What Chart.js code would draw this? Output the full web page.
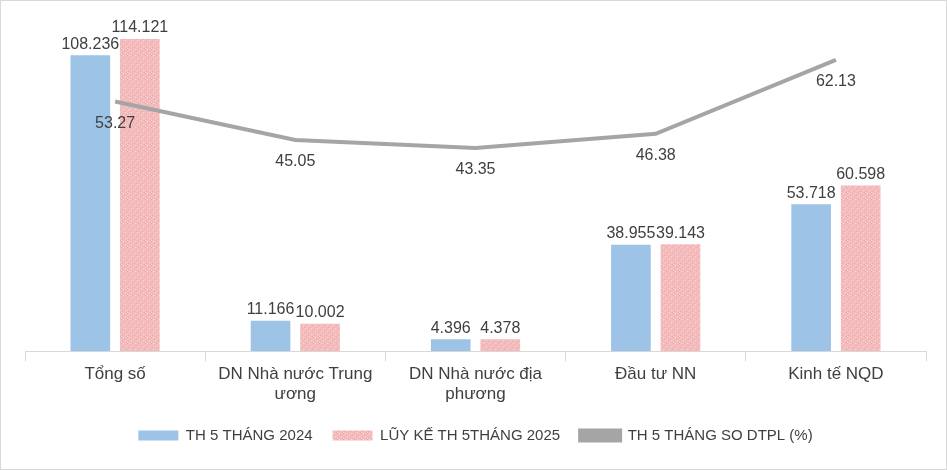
<!DOCTYPE html>
<html>
<head>
<meta charset="utf-8">
<script src="https://cdn.jsdelivr.net/npm/chart.js@4"></script>
<style>
  body { margin: 0; background: #fff; }
  #wrap { width: 945px; height: 468px; border: 1px solid #d9d9d9; }
</style>
</head>
<body>
<div id="wrap"><canvas id="chart" width="945" height="468"></canvas></div>
<script>
// Data
const categories = [['Tổng số'], ['DN Nhà nước Trung', 'ương'], ['DN Nhà nước địa', 'phương'], ['Đầu tư NN'], ['Kinh tế NQD']];
const th2024 = [108.236, 11.166, 4.396, 38.955, 53.718];
const lk2025 = [114.121, 10.002, 4.378, 39.143, 60.598];
const soDtpl = [53.27, 45.05, 43.35, 46.38, 62.13];

// Textured pink fill
function pinkPattern() {
  const c = document.createElement('canvas');
  c.width = 6; c.height = 6;
  const g = c.getContext('2d');
  g.fillStyle = '#f4bcbc';
  g.fillRect(0, 0, 6, 6);
  g.fillStyle = '#e8a8a8';
  g.fillRect(0, 0, 1, 1); g.fillRect(3, 2, 1, 1); g.fillRect(1, 4, 1, 1); g.fillRect(5, 5, 1, 1);
  g.fillStyle = '#fbd4d4';
  g.fillRect(2, 0, 1, 1); g.fillRect(4, 3, 1, 1); g.fillRect(0, 5, 1, 1);
  return g.createPattern(c, 'repeat');
}

const fmt = v => v.toFixed(3);

// Draw value labels
const valueLabels = {
  id: 'valueLabels',
  afterDatasetsDraw(chart) {
    const ctx = chart.ctx;
    ctx.save();
    ctx.font = '16px "Liberation Sans", Arial, sans-serif';
    ctx.fillStyle = '#404040';
    ctx.textAlign = 'center';
    chart.data.datasets.forEach((ds, i) => {
      chart.getDatasetMeta(i).data.forEach((el, j) => {
        if (ds.type === 'line') {
          ctx.textBaseline = 'top';
          ctx.fillText(ds.data[j].toFixed(2), el.x, el.y + 14);
        } else {
          ctx.textBaseline = 'bottom';
          ctx.fillText(fmt(ds.data[j]), el.x, el.y - 3);
        }
      });
    });
    ctx.restore();
  }
};

new Chart(document.getElementById('chart'), {
  data: {
    labels: categories,
    datasets: [
      { type: 'line', label: 'TH 5 THÁNG SO DTPL (%)', data: soDtpl, yAxisID: 'y2',
        borderColor: '#a5a5a5', backgroundColor: '#a5a5a5', borderWidth: 4, pointRadius: 0, tension: 0, order: 0 },
      { type: 'bar', label: 'TH 5 THÁNG 2024', data: th2024, yAxisID: 'y',
        backgroundColor: '#9dc3e6', barPercentage: 0.8, categoryPercentage: 0.55, order: 1 },
      { type: 'bar', label: 'LŨY KẾ TH 5THÁNG 2025', data: lk2025, yAxisID: 'y',
        backgroundColor: pinkPattern(), barPercentage: 0.8, categoryPercentage: 0.55, order: 1 }
    ]
  },
  options: {
    responsive: false,
    animation: false,
    layout: { padding: { left: 24, right: 20, top: 22, bottom: 16 } },
    plugins: {
      tooltip: { enabled: false },
      legend: {
        position: 'bottom',
        labels: {
          font: { size: 15, family: '"Liberation Sans", Arial, sans-serif' },
          color: '#404040',
          boxWidth: 40,
          boxHeight: 10,
          padding: 20,
          sort: (a, b) => (a.datasetIndex === 0 ? 1 : 0) - (b.datasetIndex === 0 ? 1 : 0)
        }
      }
    },
    scales: {
      x: {
        offset: true,
        grid: { display: true, drawOnChartArea: false, tickLength: 10, color: '#d9d9d9', offset: true },
        border: { color: '#d9d9d9' },
        ticks: { color: '#404040', font: { size: 17, family: '"Liberation Sans", Arial, sans-serif' }, maxRotation: 0 }
      },
      y: { display: false, min: 0, max: 120 },
      y2: { display: false, min: 0, max: 70, position: 'right' }
    }
  },
  plugins: [valueLabels]
});
</script>
</body>
</html>
